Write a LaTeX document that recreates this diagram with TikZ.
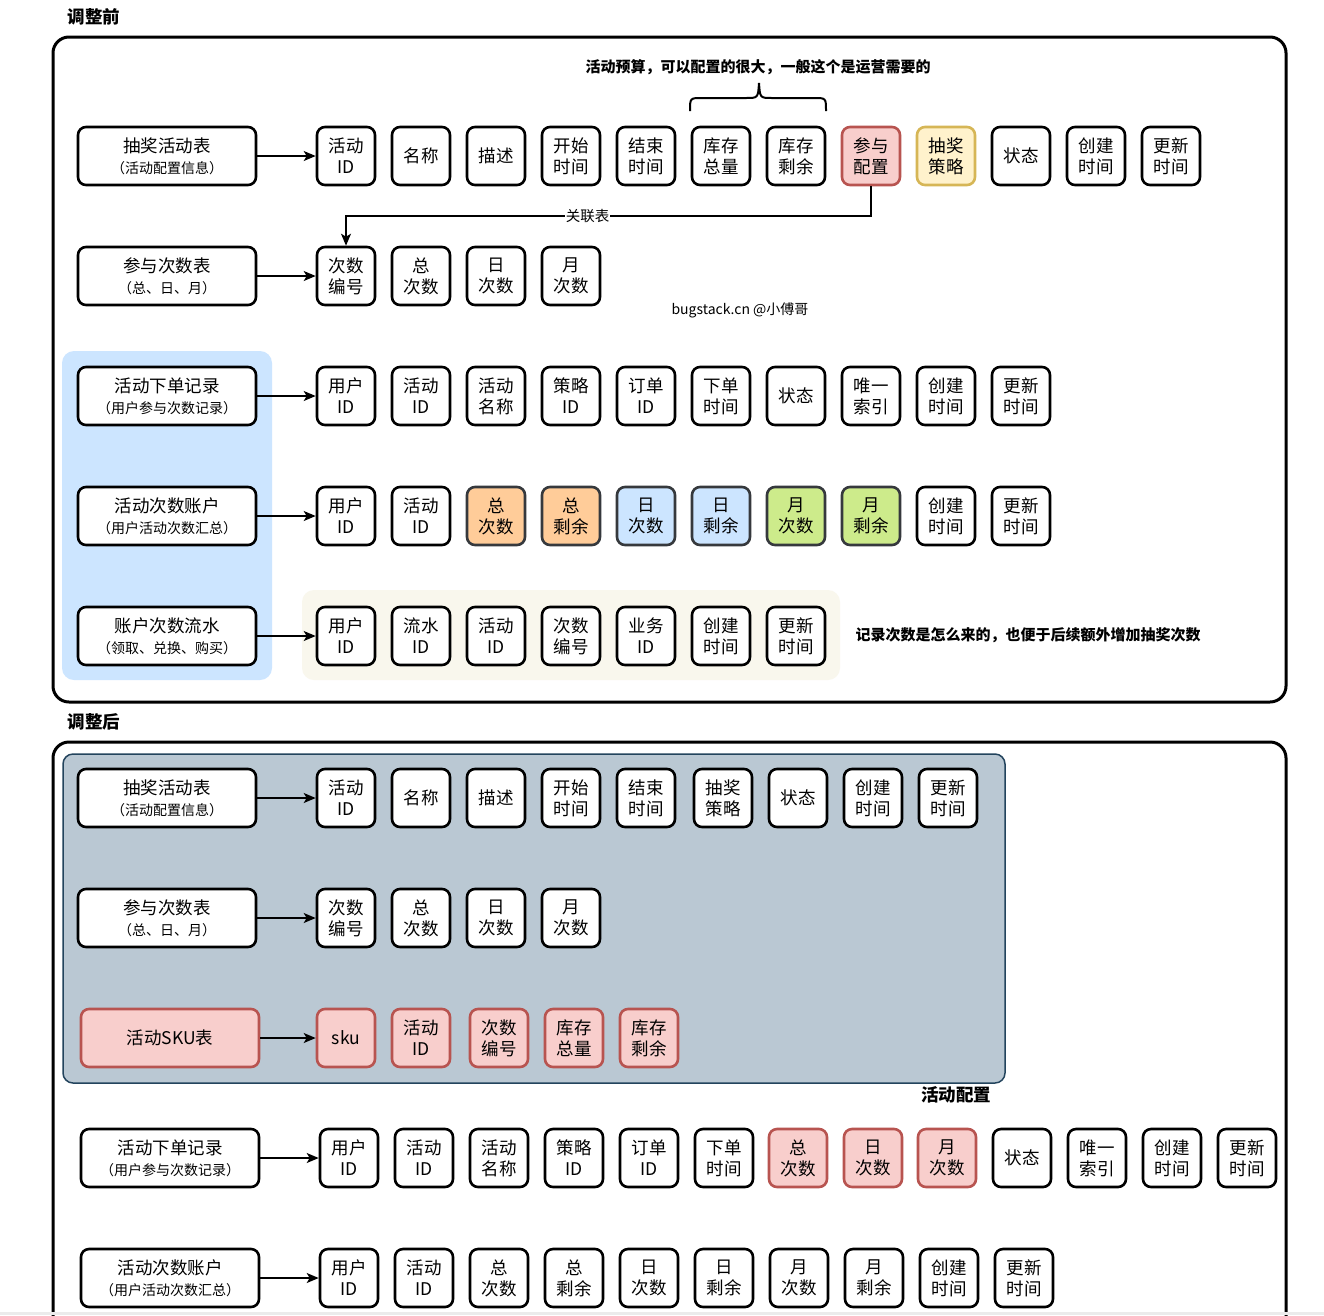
\documentclass[tikz,border=0pt]{standalone}
\usepackage{fontspec}
\setmainfont{Noto Sans CJK SC}
\usetikzlibrary{arrows.meta}
\definecolor{cRedF}{HTML}{F8CECC}
\definecolor{cRedD}{HTML}{B85450}
\definecolor{cYelF}{HTML}{FFF2CC}
\definecolor{cYelD}{HTML}{D6B656}
\definecolor{cOrgF}{HTML}{FFCC99}
\definecolor{cBluF}{HTML}{CCE5FF}
\definecolor{cGrnF}{HTML}{CDEB8B}
\definecolor{cDark}{HTML}{36393D}
\definecolor{cBgBlue}{HTML}{CCE5FF}
\definecolor{cBeige}{HTML}{F9F7ED}
\definecolor{cSlateF}{HTML}{BAC8D3}
\definecolor{cSlateD}{HTML}{23445D}
\newcommand\fbig{\fontsize{17.5}{21}\selectfont}
\newcommand\fsmall{\fontsize{14}{21}\selectfont}
\begin{document}
\begin{tikzpicture}[x=1pt,y=-1pt,
 tbl/.style={draw=black, line width=2.6pt, rounded corners=8pt, minimum width=178pt, minimum height=58pt, align=center, fill=white, inner sep=0pt, font=\fbig},
 fld/.style={draw=black, line width=2.6pt, rounded corners=8pt, minimum width=58pt, minimum height=58pt, align=center, fill=white, inner sep=0pt, font=\fbig},
 fplain/.style={},
 fred/.style={fill=cRedF, draw=cRedD},
 fyel/.style={fill=cYelF, draw=cYelD},
 forg/.style={fill=cOrgF, draw=cDark},
 fblu/.style={fill=cBluF, draw=cDark},
 fgrn/.style={fill=cGrnF, draw=cDark},
 conn/.style={line width=1.5pt, -{Stealth[length=12pt,width=10pt,inset=3pt]}},
 outerframe/.style={line width=3pt, rounded corners=16pt},
 annot/.style={font=\fontsize{15}{18}\selectfont\bfseries},
 sectitle/.style={font=\fontsize{17.5}{20}\selectfont\bfseries},
]
\useasboundingbox (0,0) rectangle (1324,1315);
\clip (0,0) rectangle (1324,1315);
\fill[white] (0,0) rectangle (1324,1315);

% ================= 调整前 =================
\node[sectitle] (t1) at (94,17) {调整前};
\draw[outerframe] (53,37) rectangle (1286,702);
\fill[cBgBlue, rounded corners=12pt] (62,351) rectangle (272,680);
\fill[cBeige, rounded corners=12pt] (302,590) rectangle (840,680);

% row 1
\node[tbl] (a1) at (167,156) {抽奖活动表\\{\fsmall （活动配置信息）}};
\foreach \x/\t/\s [count=\i] in {346/活动\\ID/fplain, 421/名称/fplain, 496/描述/fplain, 571/开始\\时间/fplain, 646/结束\\时间/fplain, 721/库存\\总量/fplain, 796/库存\\剩余/fplain, 871/参与\\配置/fred, 946/抽奖\\策略/fyel, 1021/状态/fplain, 1096/创建\\时间/fplain, 1171/更新\\时间/fplain}
  \node[fld,\s] (a1f\i) at (\x,156) {\t};
\draw[conn] (a1.east) -- (a1f1.west);

% brace + note
\draw[line width=2pt] (690,111) .. controls (690,98) .. (702,98) -- (746,98) .. controls (758,98) .. (759,83);
\draw[line width=2pt] (826,111) .. controls (826,98) .. (814,98) -- (772,98) .. controls (760,98) .. (759,83);
\node[annot] (n1) at (758,67) {活动预算，可以配置的很大，一般这个是运营需要的};

% row 2
\node[tbl] (a2) at (167,276) {参与次数表\\{\fsmall （总、日、月）}};
\foreach \x/\t/\s [count=\i] in {346/次数\\编号/fplain, 421/总\\次数/fplain, 496/日\\次数/fplain, 571/月\\次数/fplain}
  \node[fld,\s] (a2f\i) at (\x,276) {\t};
\draw[conn] (a2.east) -- (a2f1.west);

\coordinate (k1) at (346,216);
\draw[conn] (a1f8.south) |- node[pos=0.77, fill=white, inner sep=1pt, font=\fontsize{14.5}{16}\selectfont] (lk) {关联表} (k1) -- (a2f1.north);

\node[font=\fontsize{14}{16}\selectfont] (n2) at (740,310) {bugstack.cn @小傅哥};

% row 3
\node[tbl] (a3) at (167,396) {活动下单记录\\{\fsmall （用户参与次数记录）}};
\foreach \t/\s [count=\i] in {用户\\ID/fplain, 活动\\ID/fplain, 活动\\名称/fplain, 策略\\ID/fplain, 订单\\ID/fplain, 下单\\时间/fplain, 状态/fplain, 唯一\\索引/fplain, 创建\\时间/fplain, 更新\\时间/fplain}
  \node[fld,\s] (a3f\i) at ({346+75*(\i-1)},396) {\t};
\draw[conn] (a3.east) -- (a3f1.west);

% row 4
\node[tbl] (a4) at (167,516) {活动次数账户\\{\fsmall （用户活动次数汇总）}};
\foreach \t/\s [count=\i] in {用户\\ID/fplain, 活动\\ID/fplain, 总\\次数/forg, 总\\剩余/forg, 日\\次数/fblu, 日\\剩余/fblu, 月\\次数/fgrn, 月\\剩余/fgrn, 创建\\时间/fplain, 更新\\时间/fplain}
  \node[fld,\s] (a4f\i) at ({346+75*(\i-1)},516) {\t};
\draw[conn] (a4.east) -- (a4f1.west);

% row 5
\node[tbl] (a5) at (167,636) {账户次数流水\\{\fsmall （领取、兑换、购买）}};
\foreach \t/\s [count=\i] in {用户\\ID/fplain, 流水\\ID/fplain, 活动\\ID/fplain, 次数\\编号/fplain, 业务\\ID/fplain, 创建\\时间/fplain, 更新\\时间/fplain}
  \node[fld,\s] (a5f\i) at ({346+75*(\i-1)},636) {\t};
\draw[conn] (a5.east) -- (a5f1.west);
\node[annot] (n3) at (1028,635) {记录次数是怎么来的，也便于后续额外增加抽奖次数};

% ================= 调整后 =================
\node[sectitle] (t2) at (94,722) {调整后};
\draw[outerframe] (53,742) rectangle (1286,1360);
\draw[fill=cSlateF, draw=cSlateD, line width=1.5pt, rounded corners=10pt] (63,754) rectangle (1005,1083);

% row A
\node[tbl] (b1) at (167,798) {抽奖活动表\\{\fsmall （活动配置信息）}};
\foreach \x/\t/\s [count=\i] in {346/活动\\ID/fplain, 421/名称/fplain, 496/描述/fplain, 571/开始\\时间/fplain, 646/结束\\时间/fplain, 723/抽奖\\策略/fplain, 798/状态/fplain, 873/创建\\时间/fplain, 948/更新\\时间/fplain}
  \node[fld,\s] (b1f\i) at (\x,798) {\t};
\draw[conn] (b1.east) -- (b1f1.west);

% row B
\node[tbl] (b2) at (167,918) {参与次数表\\{\fsmall （总、日、月）}};
\foreach \x/\t/\s [count=\i] in {346/次数\\编号/fplain, 421/总\\次数/fplain, 496/日\\次数/fplain, 571/月\\次数/fplain}
  \node[fld,\s] (b2f\i) at (\x,918) {\t};
\draw[conn] (b2.east) -- (b2f1.west);

% row C
\node[tbl,fred] (b3) at (170,1038) {活动SKU表};
\foreach \x/\t/\s [count=\i] in {346/sku/fred, 421/活动\\ID/fred, 499/次数\\编号/fred, 574/库存\\总量/fred, 649/库存\\剩余/fred}
  \node[fld,\s] (b3f\i) at (\x,1038) {\t};
\draw[conn] (b3.east) -- (b3f1.west);
\node[sectitle] (n4) at (956,1095) {活动配置};

% row D
\node[tbl] (b4) at (170,1158) {活动下单记录\\{\fsmall （用户参与次数记录）}};
\foreach \x/\t/\s [count=\i] in {349/用户\\ID/fplain, 424/活动\\ID/fplain, 499/活动\\名称/fplain, 574/策略\\ID/fplain, 649/订单\\ID/fplain, 724/下单\\时间/fplain, 798/总\\次数/fred, 873/日\\次数/fred, 947/月\\次数/fred, 1022/状态/fplain, 1097/唯一\\索引/fplain, 1172/创建\\时间/fplain, 1247/更新\\时间/fplain}
  \node[fld,\s] (b4f\i) at (\x,1158) {\t};
\draw[conn] (b4.east) -- (b4f1.west);

% row E
\node[tbl] (b5) at (170,1278) {活动次数账户\\{\fsmall （用户活动次数汇总）}};
\foreach \t/\s [count=\i] in {用户\\ID/fplain, 活动\\ID/fplain, 总\\次数/fplain, 总\\剩余/fplain, 日\\次数/fplain, 日\\剩余/fplain, 月\\次数/fplain, 月\\剩余/fplain, 创建\\时间/fplain, 更新\\时间/fplain}
  \node[fld,\s] (b5f\i) at ({349+75*(\i-1)},1278) {\t};
\draw[conn] (b5.east) -- (b5f1.west);

\fill[black!8] (0,1312) rectangle (1324,1315);
\end{tikzpicture}
\end{document}
